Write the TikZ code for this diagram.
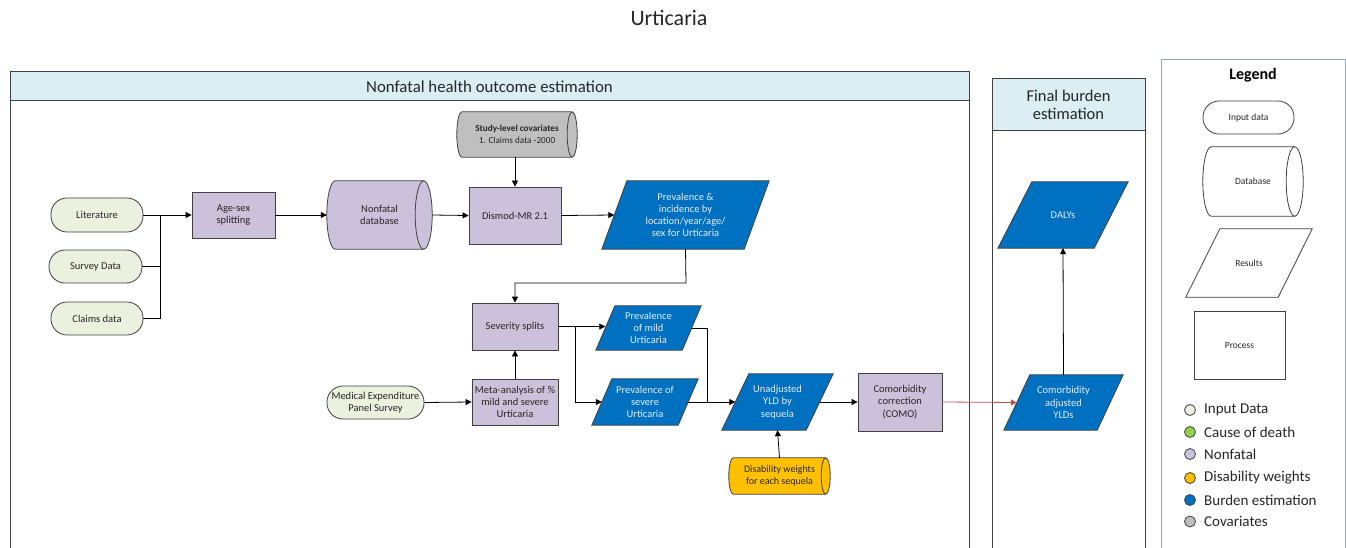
\documentclass[tikz,border=0pt]{standalone}
\usepackage{fontspec}
\setmainfont{Carlito}
\usetikzlibrary{arrows.meta,backgrounds,calc}
\definecolor{inputc}{HTML}{EBF1DE}
\definecolor{procc}{HTML}{CCC1DA}
\definecolor{bluec}{HTML}{0070C0}
\definecolor{grayc}{HTML}{BFBFBF}
\definecolor{orangec}{HTML}{FFC000}
\definecolor{greenc}{HTML}{92D050}
\definecolor{headc}{HTML}{DAEEF3}
\definecolor{edgec}{HTML}{404040}
\definecolor{txt}{HTML}{262626}
\definecolor{ontxt}{HTML}{E3EEF9}
\definecolor{legc}{HTML}{8EA9C1}
\definecolor{redc}{HTML}{C0504D}
\newcommand\drawpara[3]{%
  \draw[shapeline, fill=#3] ($(#1.north west)+(#2pt,0)$) -- (#1.north east)
    -- ($(#1.south east)-(#2pt,0)$) -- (#1.south west) -- cycle;}
\newcommand\drawcyl[3]{%
  \draw[shapeline, fill=#3] let \p1=(#1.north west), \p2=(#1.south east), \n1={(\y1-\y2)/2} in
    (\x1+#2pt,\y1) -- (\x2-#2pt,\y1) arc[start angle=90,end angle=-90,x radius=#2pt,y radius={\n1*1pt}]
    -- (\x1+#2pt,\y2) arc[start angle=270,end angle=90,x radius=#2pt,y radius={\n1*1pt}] -- cycle;
  \draw[shapeline] let \p1=(#1.north west), \p2=(#1.south east), \n1={(\y1-\y2)/2} in
    (\x2-#2pt,\y1) arc[start angle=90,end angle=270,x radius=#2pt,y radius={\n1*1pt}];}
\tikzset{
  shapeline/.style={draw=edgec, line width=0.8pt},
  base/.style={inner sep=0pt, align=center, font=\fontsize{10.5}{12.2}\selectfont, text=txt},
  pill/.style={base, shapeline, fill=inputc, rounded corners=16pt, rectangle},
  proc/.style={base, shapeline, fill=procc, rectangle},
  ghost/.style={base, rectangle, draw=none},
  onblue/.style={ghost, text=ontxt},
  arr/.style={-{Triangle[length=6pt,width=6pt]}, line width=0.8pt, black},
  ln/.style={line width=0.8pt, black},
  panel/.style={draw=edgec, line width=1pt},
  legdot/.style={circle, draw=edgec, line width=0.8pt, minimum size=11pt, inner sep=0pt},
  legtxt/.style={anchor=west, inner sep=0pt, font=\fontsize{15}{17}\selectfont, text=txt},
  legshape/.style={base, font=\fontsize{9.5}{11}\selectfont},
}
\begin{document}
\begin{tikzpicture}[x=1pt, y=-1pt]
\useasboundingbox (0,0) rectangle (1346,548);
% title
\node[font=\fontsize{22}{24}\selectfont, text=txt] (title) at (669,18) {Urticaria};
% panels
\draw[panel] (10,548) -- (10,72) -- (969,72) -- (969,548);
\draw[panel, fill=headc] (10,72) rectangle (969,101);
\node[font=\fontsize{16.8}{19}\selectfont, text=txt] (nfhead) at (489.5,86.5) {Nonfatal health outcome estimation};
\draw[panel] (992,548) -- (992,79) -- (1145,79) -- (1145,548);
\draw[panel, fill=headc] (992,79) rectangle (1145,131);
\node[font=\fontsize{16.5}{18}\selectfont, text=txt, align=center] (fbhead) at (1068.5,105) {Final burden\\estimation};
\draw[draw=legc, line width=1pt] (1161,548) -- (1161,60) -- (1345,60) -- (1345,548);
\node[font=\bfseries\fontsize{16}{18}\selectfont, text=black] (legtitle) at (1253,75) {Legend};

% input nodes
\node[pill, minimum width=92pt, minimum height=34pt] (lit) at (97,215) {Literature};
\node[pill, minimum width=93pt, minimum height=33pt] (survey) at (95.5,266.5) {Survey Data};
\node[pill, minimum width=92pt, minimum height=33pt] (claims) at (97,318.5) {Claims data};
\node[pill, minimum width=97pt, minimum height=33pt] (mep) at (375.5,402.5) {Medical Expenditure\\Panel Survey};
% process
\node[proc, minimum width=83pt, minimum height=46pt] (agesex) at (233.5,215) {Age-sex\\splitting};
\node[proc, minimum width=92pt, minimum height=57pt] (dismod) at (515,215.5) {Dismod-MR 2.1};
\node[proc, minimum width=86pt, minimum height=47pt] (sev) at (515,326.5) {Severity splits};
\node[proc, minimum width=86pt, minimum height=46pt] (meta) at (515,402) {Meta-analysis of \%\\mild and severe\\Urticaria};
\node[proc, minimum width=84pt, minimum height=58pt] (como) at (900,402) {Comorbidity\\correction\\(COMO)};
% cylinders
\node[ghost, minimum width=105pt, minimum height=68pt] (nfdb) at (379.5,215) {Nonfatal\\database};
\node[ghost, minimum width=120pt, minimum height=45pt, font=\fontsize{9.2}{11.5}\selectfont] (cov) at (517,134.5) {\textbf{Study-level covariates}\\1. Claims data -2000};
\node[ghost, minimum width=101pt, minimum height=36pt, font=\fontsize{10}{12}\selectfont] (dw) at (779.5,476) {Disability weights\\for each sequela};
% parallelograms
\node[onblue, minimum width=167pt, minimum height=68pt] (previnc) at (685.5,215) {Prevalence \&\\incidence by\\location/year/age/\\sex for Urticaria};
\node[onblue, minimum width=105pt, minimum height=44pt] (mild) at (648.5,328) {Prevalence\\of mild\\Urticaria};
\node[onblue, minimum width=106pt, minimum height=46pt] (severe) at (645,402) {Prevalence of\\severe\\Urticaria};
\node[onblue, minimum width=111pt, minimum height=56pt] (unadj) at (777.5,402) {Unadjusted\\YLD by\\sequela};
\node[onblue, minimum width=119pt, minimum height=55pt] (comoadj) at (1063.5,402.5) {Comorbidity\\adjusted\\YLDs};
\node[onblue, minimum width=130pt, minimum height=66pt] (dalys) at (1063,215) {DALYs};
% legend shapes
\node[legshape, shapeline, rectangle, rounded corners=16pt, minimum width=91pt, minimum height=33pt] (lgin) at (1248.5,117.5) {Input data};
\node[legshape, minimum width=100pt, minimum height=69pt] (lgdb) at (1253,181.5) {Database};
\node[legshape, minimum width=126pt, minimum height=68pt] (lgres) at (1249,263) {Results};
\node[legshape, shapeline, rectangle, minimum width=91pt, minimum height=68pt] (lgproc) at (1239.5,345) {Process};
% legend items
\node[legdot, fill=inputc] (d1) at (1190,410) {};
\node[legtxt] (t1) at (1204,410) {Input Data};
\node[legdot, fill=greenc] (d2) at (1190,432) {};
\node[legtxt] (t2) at (1204,432) {Cause of death};
\node[legdot, fill=procc] (d3) at (1190,454) {};
\node[legtxt] (t3) at (1204,454) {Nonfatal};
\node[legdot, fill=orangec] (d4) at (1190,478) {};
\node[legtxt] (t4) at (1204,478) {Disability weights};
\node[legdot, fill=bluec] (d5) at (1190,500) {};
\node[legtxt] (t5) at (1204,500) {Burden estimation};
\node[legdot, fill=grayc] (d6) at (1190,521.5) {};
\node[legtxt] (t6) at (1204,521.5) {Covariates};

\begin{scope}[on background layer]
  \drawcyl{nfdb}{8.5}{procc}
  \drawcyl{cov}{5}{grayc}
  \drawcyl{dw}{4.5}{orangec}
  \drawcyl{lgdb}{8.5}{white}
  \drawpara{previnc}{25}{bluec}
  \drawpara{mild}{19}{bluec}
  \drawpara{severe}{20}{bluec}
  \drawpara{unadj}{27}{bluec}
  \drawpara{comoadj}{26}{bluec}
  \drawpara{dalys}{34}{bluec}
  \drawpara{lgres}{34}{white}
\end{scope}

% connector helper coordinates
\coordinate (j) at (160,215);
\coordinate (mildw) at ($(mild.west)+(9.5pt,0)$);
\coordinate (milde) at ($(mild.east)-(9.5pt,0)$);
\coordinate (severew) at ($(severe.west)+(10pt,0)$);
\coordinate (severee) at ($(severe.east)-(10pt,0)$);
\coordinate (unadjw) at ($(unadj.west)+(13.5pt,0)$);
\coordinate (unadje) at ($(unadj.east)-(13.5pt,0)$);
\coordinate (comoadjw) at ($(comoadj.west)+(13pt,0)$);
\coordinate (previncw) at ($(previnc.west)+(12.5pt,0)$);
\coordinate (sj) at (575,326.5);
\coordinate (mj) at (707,328);
\coordinate (pj) at (686,283);

% connectors
\draw[arr] (lit.east) -- (agesex.west);
\draw[ln] (survey.east) -| (j);
\draw[ln] (claims.east) -| (j);
\draw[arr] (agesex.east) -- (nfdb.west);
\draw[arr] (nfdb.east) -- (dismod.west);
\draw[arr] (cov.south -| dismod.north) -- (dismod.north);
\draw[arr] (dismod.east) -- (previncw);
\draw[arr] (previnc.south) -- (pj) -| (sev.north);
\draw[arr] (sev.east) -- (sev.east -| mildw);
\draw[arr] (sj) |- (severew);
\draw[ln] (milde) -- (mj) -- (mj |- unadjw);
\draw[arr] (severee) -- (unadjw);
\draw[arr] (unadje) -- (como.west);
\draw[arr, redc] (como.east) -- (comoadjw);
\draw[arr] (comoadj.north) -- (dalys.south);
\draw[arr] (meta.north) -- (sev.south);
\draw[arr] (mep.east) -- (meta.west);
\draw[arr] (dw.north) -- (unadj.south);
\end{tikzpicture}
\end{document}
